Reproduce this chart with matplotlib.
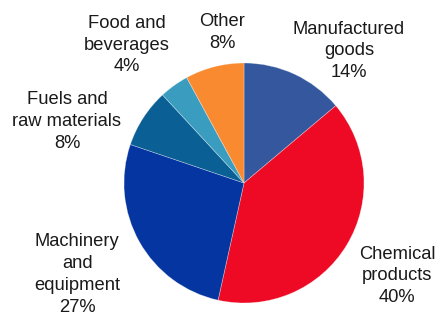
import matplotlib
matplotlib.use("Agg")
from matplotlib import pyplot as plt

categories = ["Manufactured\ngoods", "Chemical\nproducts", "Machinery\nand\nequipment",
              "Fuels and\nraw materials", "Food and\nbeverages", "Other"]
shares = [14, 40, 27, 8, 4, 8]
colors = ["#34579E", "#EE0A24", "#0535A0", "#0A5F94", "#3A9DC0", "#F98A30"]

# label centres in pie units (radius = 1)
label_pos = [(0.875, 1.1), (1.275, -0.775), (-1.39, -0.765),
             (-1.475, 0.51), (-0.975, 1.15), (-0.183, 1.255)]

plt.rcParams['font.family'] = ['Liberation Sans', 'DejaVu Sans']

fig = plt.figure(figsize=(4.39, 3.16), dpi=100)
ax = fig.add_axes([0, 0, 1, 1])
ax.pie(shares, colors=colors, startangle=90, counterclock=False, radius=1,
       wedgeprops=dict(linewidth=0.5, edgecolor=(1, 1, 1, 0.4)))
for name, val, (x, y) in zip(categories, shares, label_pos):
    ax.text(x, y, f"{name}\n{val}%", ha="center", va="center",
            fontsize=13.2, color="#1a1a1a", linespacing=1.38)

ax.set_xlim(-244 / 120, (439 - 244) / 120)
ax.set_ylim(-(316 - 183) / 120, 183 / 120)
ax.set_aspect("equal")
ax.axis("off")
fig.savefig("out.png", dpi=100)
